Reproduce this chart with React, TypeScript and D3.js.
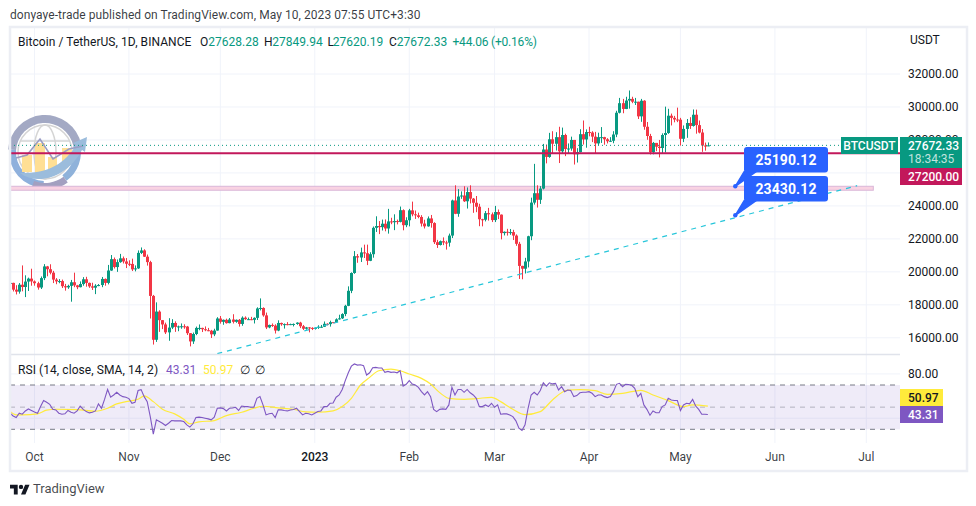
import * as d3 from "d3";

const FONT = "Roboto, 'Noto Sans', sans-serif";
const UP = "#089981";
const DOWN = "#f23645";
const PURPLE = "#7e57c2";
const YELLOW = "#ffeb3b";
const MAGENTA = "#c2185b";
const BLUE = "#2962ff";
const TEXT = "#131722";

const firstDay = new Date(Date.UTC(2022, 8, 23));
const lastAxisDay = new Date(Date.UTC(2023, 6, 1));

// daily candles, one line per month (Sep 23 2022 .. May 10 2023)
const opens = [
  19290, 19330, 18920, 18800, 19220, 19080, 19410, 19590,
  19420, 19310, 19050, 19620, 20330, 20160, 19950, 19530, 19420, 19440, 19130, 19060, 19150, 19370, 19180, 19070, 19260, 19550, 19330, 19120, 19040, 19160, 19200, 19570, 19330, 20080, 20770, 20290, 20590, 20820, 20630,
  20490, 20480, 20150, 20210, 21150, 21300, 20920, 20590, 18540, 15880, 17590, 17070, 16810, 16330, 16620, 16900, 16660, 16690, 16700, 16680, 16280, 15780, 16230, 16600, 16600, 16520, 16460, 16430, 16210, 16440,
  17170, 16970, 17090, 16890, 17110, 16970, 17090, 16840, 17220, 17130, 17130, 17090, 17210, 17780, 17810, 17360, 16630, 16780, 16740, 16440, 16900, 16820, 16830, 16780, 16830, 16840, 16920, 16700, 16550, 16630, 16600,
  16540, 16610, 16670, 16670, 16850, 16830, 16950, 16940, 17120, 17180, 17440, 17940, 18850, 19930, 20950, 20870, 21180, 21130, 20670, 21070, 22670, 22780, 22710, 22920, 22630, 23060, 23010, 23080, 23030, 23740, 22830,
  23130, 23730, 23490, 23430, 23330, 22930, 22760, 23240, 22960, 21800, 21630, 21860, 21780, 21770, 22200, 24330, 23520, 24570, 24630, 24280, 24840, 24440, 24190, 23950, 23190, 23160, 23560, 23490,
  23140, 23630, 23470, 22350, 22430, 22410, 22410, 22200, 21700, 20360, 20190, 20630, 22160, 24200, 24770, 24370, 25050, 27420, 26970, 28040, 27770, 28170, 27310, 28300, 27450, 27480, 28000, 27130, 27260, 28350, 28030,
  28480, 28450, 28200, 27790, 28170, 28170, 28040, 27920, 27950, 28330, 29650, 30230, 29880, 30390, 30490, 30320, 30320, 29430, 30380, 28800, 28240, 27260, 27820, 27590, 27510, 28300, 28420, 29470, 29340, 29240,
  29230, 28070, 28670, 29030, 28850, 29530, 28900, 28450, 27660, 27628.28,
];
const highs = [
  19500, 19340, 19190, 19320, 20390, 19790, 19650, 20190,
  19480, 19400, 19720, 20470, 20360, 20460, 20060, 19620, 19560, 19530, 19270, 19220, 19510, 19950, 19210, 19420, 19680, 19700, 19350, 19340, 19250, 19260, 19690, 19600, 20420, 21020, 20870, 20750, 21090, 20930, 20840,
  20700, 20800, 20390, 21300, 21480, 21370, 21050, 20670, 18600, 18150, 17670, 17080, 16920, 17190, 17130, 17000, 16740, 16870, 16820, 16720, 16290, 16320, 16680, 16810, 16610, 16690, 16600, 16480, 16550, 17250,
  17320, 17110, 17160, 17200, 17430, 17110, 17140, 17300, 17300, 17230, 17270, 17240, 17850, 18390, 17850, 17530, 16800, 16870, 16820, 17060, 16920, 16870, 16950, 16860, 16870, 16940, 16970, 16780, 16660, 16650, 16640,
  16630, 16760, 16780, 16990, 16880, 17040, 16960, 17180, 17400, 17490, 18000, 19120, 19970, 21260, 21080, 21470, 21650, 21650, 21190, 22750, 23370, 23080, 23170, 23180, 23820, 23280, 23490, 23170, 23960, 23790, 23310,
  23820, 24260, 23720, 23590, 23440, 23160, 23360, 23450, 23010, 21940, 21900, 22090, 21890, 22320, 24380, 25250, 25020, 24880, 25190, 25120, 25250, 24480, 24600, 24130, 23220, 23690, 23880, 23600,
  24000, 23780, 23480, 22450, 22610, 22600, 22550, 22270, 21820, 20370, 20850, 22190, 24500, 26550, 25250, 25200, 27760, 27720, 28430, 28530, 28470, 28800, 28750, 28380, 27790, 28200, 28000, 27500, 28650, 29180, 28640,
  28800, 28530, 28490, 28440, 28780, 28190, 28110, 28170, 28530, 29770, 30550, 30490, 30620, 31000, 30620, 30550, 30320, 30490, 30410, 29090, 28370, 27880, 27820, 28000, 28400, 30020, 29890, 29600, 29460, 29960,
  29340, 28880, 29270, 29380, 29850, 29840, 29180, 28660, 27840, 27849.94,
];
const lows = [
  18620, 18810, 18630, 18680, 18820, 18470, 18840, 19160,
  19160, 18920, 18960, 19500, 19730, 19850, 19320, 19250, 19310, 19020, 18860, 18970, 18190, 19070, 18950, 19060, 19160, 19100, 19030, 18900, 18650, 19130, 19070, 19160, 19240, 20060, 20200, 20000, 20550, 20510, 20230,
  20350, 20050, 20030, 20180, 21080, 20900, 20380, 17170, 15590, 15750, 16360, 16530, 16230, 15820, 16530, 16360, 16400, 16550, 16550, 16170, 15480, 15630, 16160, 16460, 16350, 16400, 16400, 15990, 16100, 16430,
  16860, 16790, 16860, 16880, 16870, 16910, 16680, 16730, 17090, 17090, 17070, 16870, 17080, 17660, 17280, 16530, 16580, 16660, 16260, 16400, 16730, 16560, 16760, 16770, 16690, 16790, 16590, 16470, 16490, 16330, 16470,
  16500, 16540, 16610, 16660, 16750, 16680, 16910, 16910, 17100, 17140, 17310, 17920, 18710, 19880, 20550, 20600, 20840, 20410, 20650, 20860, 22420, 22290, 22510, 22460, 22320, 22890, 22530, 22880, 23000, 22520, 22710,
  22760, 23370, 23210, 23250, 22750, 22630, 22740, 22680, 21690, 21450, 21600, 21620, 21350, 21530, 22050, 23500, 23340, 24430, 24240, 23840, 24150, 23580, 23620, 22770, 22760, 23060, 23110, 23020,
  23020, 23200, 21970, 22210, 22200, 22250, 21930, 21580, 19570, 19550, 19900, 20270, 21920, 24080, 23900, 24120, 25000, 26580, 26920, 27150, 27360, 26600, 27150, 27020, 27160, 27350, 26510, 26630, 27240, 27720, 27530,
  28220, 27870, 27200, 27680, 27820, 27710, 27790, 27880, 27800, 28170, 29610, 29620, 29870, 29900, 30230, 30120, 29270, 29100, 28620, 28010, 27120, 27130, 27320, 26940, 27190, 27240, 28370, 28880, 29070, 29080,
  27660, 27870, 28130, 28670, 28810, 28380, 28400, 27280, 27350, 27620.19,
];
const closes = [
  19330, 18920, 18800, 19220, 19080, 19410, 19590, 19420,
  19310, 19050, 19620, 20330, 20160, 19950, 19530, 19420, 19440, 19130, 19060, 19150, 19370, 19180, 19070, 19260, 19550, 19330, 19120, 19040, 19160, 19200, 19570, 19330, 20080, 20770, 20290, 20590, 20820, 20630, 20490,
  20480, 20150, 20210, 21150, 21300, 20920, 20590, 18540, 15880, 17590, 17070, 16810, 16330, 16620, 16900, 16660, 16690, 16700, 16680, 16280, 15780, 16230, 16600, 16600, 16520, 16460, 16430, 16210, 16440, 17170,
  16970, 17090, 16890, 17110, 16970, 17090, 16840, 17220, 17130, 17130, 17090, 17210, 17780, 17810, 17360, 16630, 16780, 16740, 16440, 16900, 16820, 16830, 16780, 16830, 16840, 16920, 16700, 16550, 16630, 16600, 16540,
  16610, 16670, 16670, 16850, 16830, 16950, 16940, 17120, 17180, 17440, 17940, 18850, 19930, 20950, 20870, 21180, 21130, 20670, 21070, 22670, 22780, 22710, 22920, 22630, 23060, 23010, 23080, 23030, 23740, 22830, 23130,
  23730, 23490, 23430, 23330, 22930, 22760, 23240, 22960, 21800, 21630, 21860, 21780, 21770, 22200, 24330, 23520, 24570, 24630, 24280, 24840, 24440, 24190, 23950, 23190, 23160, 23560, 23490, 23140,
  23630, 23470, 22350, 22430, 22410, 22410, 22200, 21700, 20360, 20190, 20630, 22160, 24200, 24770, 24370, 25050, 27420, 26970, 28040, 27770, 28170, 27310, 28300, 27450, 27480, 28000, 27130, 27260, 28350, 28030, 28480,
  28450, 28200, 27790, 28170, 28170, 28040, 27920, 27950, 28330, 29650, 30230, 29880, 30390, 30490, 30320, 30320, 29430, 30380, 28800, 28240, 27260, 27820, 27590, 27510, 28300, 28420, 29470, 29340, 29240, 29230,
  28070, 28670, 29030, 28850, 29530, 28900, 28450, 27660, 27630, 27672.33,
];

const rsiValues = [
  44.5, 42, 40.6, 44.5, 43.6, 46.6, 48.4, 47,
  45.6, 44.5, 50.5, 56, 54.4, 52.6, 48, 47.5, 44.5, 43.6, 44, 47, 45.4, 44.5, 46.6, 51, 48, 46, 44.8, 45.4, 46.6, 53, 49, 57, 66, 59, 61, 63.4, 61, 59.5, 59,
  57.7, 53.5, 54.4, 65, 65.8, 59.5, 55, 41.5, 25.6, 38.5, 37, 35.5, 33.4, 35.5, 37.9, 37.6, 37.6, 37.6, 37, 34, 32, 35, 40.6, 41, 40.6, 40, 39.4, 38.5, 41, 49,
  49.3, 48.7, 46.6, 49, 49.3, 49.9, 47, 51, 50.5, 50.5, 49.9, 49.9, 58, 59.5, 52, 43, 44, 44.5, 40.6, 47.5, 47.5, 47, 46.6, 47.5, 47.8, 49, 46, 43, 44.5, 44, 43,
  44.5, 46, 46.6, 50.5, 50.5, 53.5, 53.8, 59, 61, 66, 74, 81, 87, 89, 88, 88.3, 87.5, 79, 81, 85.6, 85.9, 85.3, 85.3, 81.4, 82.3, 81.4, 81.7, 81, 82.9, 69, 70.6,
  73.9, 70.9, 70, 67.9, 64, 61, 64, 59.5, 48, 46, 48, 48.4, 48, 52, 68, 61, 66, 66, 63.4, 66, 63, 61, 58, 50.5, 50.5, 52, 50.5, 53.5,
  49.9, 52, 43.6, 43.9, 43.9, 43, 41.5, 37.6, 31, 29, 34, 49, 61, 63.4, 61, 65, 72, 69, 72, 71, 71.5, 65.5, 68.5, 64, 65.5, 65, 59.5, 60.4, 63, 63.4, 63.4,
  64, 62.5, 59.5, 61, 61, 59.5, 58.6, 59.5, 64, 70.6, 71.5, 68.5, 70.6, 70.3, 69.7, 67, 59.5, 62.5, 52, 48, 42.7, 46.6, 45, 45, 50.5, 52, 58, 56.5, 56, 56,
  47, 52, 53.5, 53, 57, 51, 48, 43.6, 43.6, 43.31,
];

// the yellow smoothing line, read at its turning points
const smaDays = [0, 2, 4, 9, 12, 15, 22, 28, 32, 35, 38, 42, 44, 47, 50, 54, 57, 59, 62, 67, 71, 76, 80, 83, 88, 93, 97, 101, 106, 109, 112, 115, 118, 121, 125, 128, 131, 135, 138, 141, 144, 149, 153, 158, 161, 165, 169, 174, 178, 183, 187, 192, 196, 201, 207, 211, 216, 221, 224, 229];
const smaValues = [46, 43, 43, 44, 47.3, 48.1, 47.8, 46.3, 49, 52.9, 55, 57.1, 60.1, 55, 48.1, 43.9, 39, 34.9, 36.7, 37.9, 42.4, 45.4, 49, 50.8, 49.3, 48.1, 45.7, 45.4, 46.6, 50.5, 58, 70, 76.9, 82.9, 84.4, 82.9, 79.9, 76, 70.9, 63.1, 58, 57.1, 57.7, 58.9, 55, 48.1, 43.3, 46, 56.5, 65.5, 65.8, 64.9, 61.6, 62.5, 65.2, 61, 55.9, 50.5, 52, 50.97];

const priceTicks = [32000, 30000, 28000, 26000, 24000, 22000, 20000, 18000, 16000];
const hiddenPriceLabels = [26000]; // sits behind the last-price boxes
const rsiGrid = [80, 40];
const monthLabels = ["Oct", "Nov", "Dec", "2023", "Feb", "Mar", "Apr", "May", "Jun", "Jul"];

const legendLetters = ["O", "H", "L", "C"];
const legendValues = ["27628.28", "27849.94", "27620.19", "27672.33"];
const legendLetterX = [200, 264, 327.5, 389];
const legendValueX = [208.3, 272.3, 332.8, 396.8];

const lastPrice = 27672.33;
const hLevel = 27200;
const zoneTop = 25190.12;
const zoneBottom = 24950;
const trendDays = [68, 278];
const trendPrices = [15036, 25226];
const callouts = [
  { label: "25190.12", price: 25190.12, top: 147 },
  { label: "23430.12", price: 23430.12, top: 176 },
];
const calloutDay = 238;

const dayAt = (i: number) => d3.utcDay.offset(firstDay, i);
const x = d3.scaleUtc().domain([firstDay, lastAxisDay]).range([10.1, 866.3]);
const y = d3.scaleLinear().domain([16000, 32000]).range([337.8, 74]);
const rsiY = d3.scaleLinear().domain([30, 70]).range([429.3, 385]);
const months = d3.utcMonths(new Date(Date.UTC(2022, 9, 1)), new Date(Date.UTC(2023, 6, 2)));

const rsiLine = d3.line<number>().x((_, i) => x(dayAt(i))).y((d) => rsiY(d));
const smaLine = d3
  .line<number>()
  .x((_, i) => x(dayAt(smaDays[i])))
  .y((d) => rsiY(d))
  .curve(d3.curveMonotoneX);

// watermark in the corner, blurry in the original
function Logo() {
  const ring = d3.arc();
  const arcPath = (r0: number, r1: number, a0: number, a1: number) =>
    ring({ innerRadius: r0, outerRadius: r1, startAngle: a0, endAngle: a1 }) || "";
  return (
    <g transform="translate(45,152)">
      <path d={arcPath(29, 37, -1.5, 1.35)} fill="#a3a9c4" />
      <path d={arcPath(29, 36, -3.1, -1.5)} fill="#8eb0dc" />
      <path d={arcPath(29, 36, 1.35, 2.5)} fill="#8fb2da" />
      <path d={arcPath(31, 38, 2.5, 3.5)} fill="#a3a0c0" />
      <g fill="none" stroke="#d4d4d4" strokeWidth={1.5}>
        <circle r={27} />
        <ellipse rx={11} ry={27} />
        <line x1={-25} x2={25} y1={-11} y2={-11} />
      </g>
      <g fill="#ffdf94">
        <rect x={-23} y={3} width={10} height={17} />
        <rect x={-10} y={-9} width={10} height={30} />
        <rect x={3} y={5} width={9} height={16} />
        <rect x={17} y={-4} width={10} height={15} />
      </g>
      <path
        d="M-25,21 C-8,34 22,26 37,-2 L40,0 L42,-15 L28,-9 L31,-7 C20,12 2,22 -25,21Z"
        fill="#9bbcdc"
      />
      <path
        d="M-29,6 L-18,3 L-5,-13 L8,7 L24,-3 L38,-6"
        fill="none"
        stroke="#9a9cc4"
        strokeWidth={1.6}
      />
    </g>
  );
}

export default function App() {
  const lastRsi = rsiValues[rsiValues.length - 1];
  return (
    <svg
      width={976}
      height={506}
      viewBox="0 0 976 506"
      fontFamily={FONT}
      style={{ position: "absolute", left: 0, top: 0, background: "#fff" }}
    >
      <defs>
        <clipPath id="pricePane">
          <rect x={10} y={27} width={890} height={327} />
        </clipPath>
      </defs>

      <text x={10} y={19} fontSize={12} fill={TEXT} fillOpacity={0.85} letterSpacing={0.06}>
        donyaye-trade published on TradingView.com, May 10, 2023 07:55 UTC+3:30
      </text>

      {/* grid */}
      {months.map((m) => (
        <line key={+m} x1={x(m)} x2={x(m)} y1={27} y2={443} stroke="#f0f3fa" strokeWidth={1} />
      ))}
      {priceTicks.map((t) => (
        <line key={t} x1={10} x2={900} y1={y(t)} y2={y(t)} stroke="#f0f3fa" strokeWidth={1} />
      ))}
      {rsiGrid.map((t) => (
        <line key={t} x1={10} x2={900} y1={rsiY(t)} y2={rsiY(t)} stroke="#f0f3fa" strokeWidth={1} />
      ))}

      <Logo />

      {/* price pane */}
      <g clipPath="url(#pricePane)">
        <rect
          x={10}
          width={x(dayAt(281)) + 7 - 10}
          y={y(zoneTop)}
          height={y(zoneBottom) - y(zoneTop)}
          fill="#f9d2e2"
          stroke="#d9b6d8"
          strokeWidth={1}
        />
        {closes.map((c, i) => {
          const cx = Math.round(x(dayAt(i)));
          const o = opens[i];
          const color = c >= o ? UP : DOWN;
          const top = y(Math.max(o, c));
          const h = Math.max(1, y(Math.min(o, c)) - top);
          return (
            <g key={i} fill={color}>
              <rect x={cx} width={1} y={y(highs[i])} height={y(lows[i]) - y(highs[i])} />
              <rect x={cx - 1} width={3} y={top} height={h} />
            </g>
          );
        })}
        <line
          x1={x(dayAt(trendDays[0]))}
          x2={x(dayAt(trendDays[1]))}
          y1={y(trendPrices[0])}
          y2={y(trendPrices[1])}
          stroke="#26c6da"
          strokeWidth={1.2}
          strokeDasharray="5 5"
        />
        <line x1={10} x2={841} y1={y(lastPrice)} y2={y(lastPrice)} stroke={UP} strokeWidth={1} strokeDasharray="1 3" />
        <line x1={10} x2={900} y1={y(hLevel)} y2={y(hLevel)} stroke={MAGENTA} strokeWidth={2} />
      </g>

      {/* price callouts */}
      {callouts.map((c) => {
        const px = x(dayAt(calloutDay));
        const py = y(c.price);
        const bottom = c.top + 25.5;
        return (
          <g key={c.label}>
            <path d={`M${px},${py} L${px + 21},${bottom - 1} L${px + 9},${bottom - 1} Z`} fill={BLUE} stroke={BLUE} strokeWidth={1.5} />
            <circle cx={px} cy={py} r={2.2} fill={BLUE} />
            <rect x={744} y={c.top} width={84} height={25.5} rx={3} fill={BLUE} />
            <text x={786} y={c.top + 17.5} textAnchor="middle" fill="#fff" fontSize={14} fontWeight={700} letterSpacing={0.1}>
              {c.label}
            </text>
          </g>
        );
      })}

      {/* legend */}
      <text x={18} y={46} fontSize={12} fill={TEXT} letterSpacing={0.06}>
        Bitcoin / TetherUS, 1D, BINANCE
      </text>
      {legendLetters.map((l, i) => (
        <g key={l} fontSize={12}>
          <text x={legendLetterX[i]} y={46} fill={TEXT}>
            {l}
          </text>
          <text x={legendValueX[i]} y={46} fill={UP}>
            {legendValues[i]}
          </text>
        </g>
      ))}
      <text x={452.5} y={46} fontSize={12} fill={UP} letterSpacing={-0.2}>
        +44.06 (+0.16%)
      </text>

      {/* price axis */}
      <text x={910} y={44} fontSize={12} fill={TEXT}>
        USDT
      </text>
      {priceTicks
        .filter((t) => !hiddenPriceLabels.includes(t))
        .map((t) => (
          <text key={t} x={908} y={y(t) + 4} fontSize={12} fill={TEXT}>
            {d3.format(".2f")(t)}
          </text>
        ))}
      <rect x={841} y={137} width={57} height={17} fill={UP} />
      <text x={869.5} y={149.5} textAnchor="middle" fontSize={12} fontWeight={500} fill="#fff">
        BTCUSDT
      </text>
      <rect x={900} y={137} width={62} height={31} fill={UP} />
      <text x={908} y={150} fontSize={12} fontWeight={500} fill="#fff">
        {d3.format(".2f")(lastPrice)}
      </text>
      <text x={908} y={163} fontSize={12} fill="#fff" fillOpacity={0.75}>
        18:34:35
      </text>
      <rect x={900} y={168} width={62} height={17} fill={MAGENTA} />
      <text x={908} y={180.5} fontSize={12} fontWeight={500} fill="#fff">
        {d3.format(".2f")(hLevel)}
      </text>

      {/* RSI pane */}
      <rect x={10} width={890} y={rsiY(70)} height={rsiY(30) - rsiY(70)} fill={PURPLE} fillOpacity={0.12} />
      {[70, 30].map((t) => (
        <line key={t} x1={10} x2={900} y1={rsiY(t)} y2={rsiY(t)} stroke="#787b86" strokeWidth={1} strokeDasharray="5 5" />
      ))}
      <line x1={10} x2={900} y1={rsiY(50)} y2={rsiY(50)} stroke="#787b86" strokeOpacity={0.5} strokeWidth={1} strokeDasharray="5 5" />
      <path d={smaLine(smaValues) || ""} fill="none" stroke={YELLOW} strokeWidth={1.2} />
      <path d={rsiLine(rsiValues) || ""} fill="none" stroke={PURPLE} strokeWidth={1.1} />
      <text x={18} y={374} fontSize={12} fill={TEXT} letterSpacing={0.07}>
        RSI (14, close, SMA, 14, 2)
      </text>
      <text x={166} y={374} fontSize={12} fill={PURPLE}>
        {lastRsi}
      </text>
      <text x={203} y={374} fontSize={12} fill={YELLOW}>
        50.97
      </text>
      <text x={240} y={374} fontSize={12} fill={TEXT}>
        ∅
      </text>
      <text x={255} y={374} fontSize={12} fill={TEXT}>
        ∅
      </text>
      <text x={908} y={rsiY(80) + 4} fontSize={12} fill={TEXT}>
        80.00
      </text>
      <rect x={900} y={389} width={43} height={17} fill={YELLOW} />
      <text x={908} y={401.5} fontSize={12} fontWeight={500} fill={TEXT}>
        50.97
      </text>
      <rect x={900} y={406} width={43} height={17} fill={PURPLE} />
      <text x={908} y={418.5} fontSize={12} fontWeight={500} fill="#fff">
        {lastRsi}
      </text>

      {/* time axis */}
      {months.map((m, i) => (
        <text
          key={+m}
          x={x(m)}
          y={461}
          textAnchor="middle"
          fontSize={12}
          fontWeight={monthLabels[i] === "2023" ? 500 : 400}
          fill={TEXT}
          fillOpacity={monthLabels[i] === "2023" ? 1 : 0.85}
        >
          {monthLabels[i]}
        </text>
      ))}

      {/* frame */}
      <line x1={10} x2={900} y1={354.5} y2={354.5} stroke="#e0e3eb" strokeWidth={1.5} />
      <rect x={10} y={27} width={957} height={444} fill="none" stroke="#eceef4" strokeWidth={2.5} />

      {/* TradingView mark */}
      <g transform="translate(10,482.5) scale(0.55)" fill="#131722">
        <path d="M14 22H7V11H0V4h14v18zM28 22h-8l7.5-18h8L28 22z" />
        <circle cx={20} cy={8} r={4} />
      </g>
      <text x={33} y={493} fontSize={13} fill="#131722" fillOpacity={0.8}>
        TradingView
      </text>
    </svg>
  );
}
